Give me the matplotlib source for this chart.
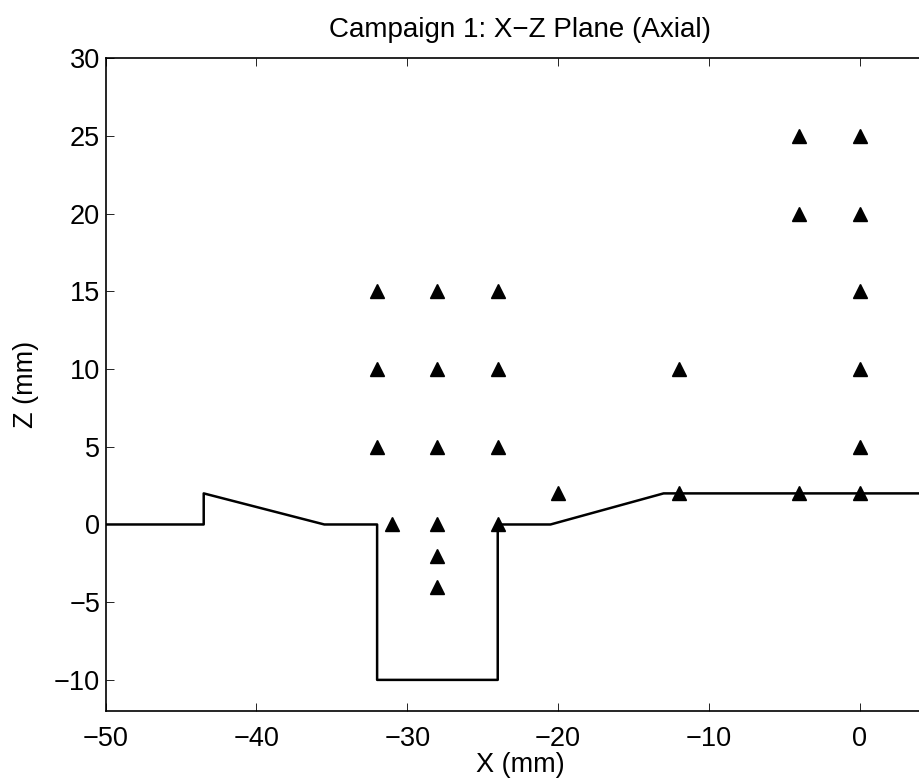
import matplotlib
matplotlib.use('Agg')
from matplotlib import pyplot as plt

plt.rcParams['font.family'] = ['Liberation Sans', 'DejaVu Sans']

# профиль поверхности (X, Z)
profile_x = [-50, -43.5, -43.5, -35.5, -32, -32, -24, -24, -20.5, -13, 5]
profile_z = [0, 0, 2, 0, 0, -10, -10, 0, 0, 2, 2]

# точки измерений
points_x = [-32, -32, -32,
            -28, -28, -28, -28, -28, -28,
            -24, -24, -24, -24,
            -31, -20,
            -12, -12,
            -4, -4, -4,
            0, 0, 0, 0, 0, 0]
points_z = [15, 10, 5,
            15, 10, 5, 0, -2, -4,
            15, 10, 5, 0,
            0, 2,
            10, 2,
            25, 20, 2,
            25, 20, 15, 10, 5, 2]

x_ticks = [-50, -40, -30, -20, -10, 0]
z_ticks = [-10, -5, 0, 5, 10, 15, 20, 25, 30]

fig = plt.figure(figsize=(9.2, 7.83), dpi=100)
ax = fig.add_axes([0.1149, 0.092, 0.9014, 0.8336])

ax.plot(profile_x, profile_z, color='k', linewidth=1.8)
ax.plot(points_x, points_z, linestyle='none', marker='^', markersize=10.5,
        color='k')

ax.set(xlim=(-50, 5), ylim=(-12, 30))
ax.set_xticks(x_ticks)
ax.set_yticks(z_ticks)
ax.tick_params(direction='in', length=5.5, width=0.6, labelsize=19.5,
               top=True, right=True)
ax.tick_params(axis='x', pad=11)
ax.tick_params(axis='y', pad=4)
for s in ax.spines.values():
    s.set_linewidth(1.2)

ax.set_title('Campaign 1: X\u2212Z Plane (Axial)', fontsize=20, pad=15)
ax.set_xlabel('X (mm)', fontsize=19.5, labelpad=0)
ax.set_ylabel('Z (mm)', fontsize=19.5, labelpad=11)

fig.savefig('out.png')
